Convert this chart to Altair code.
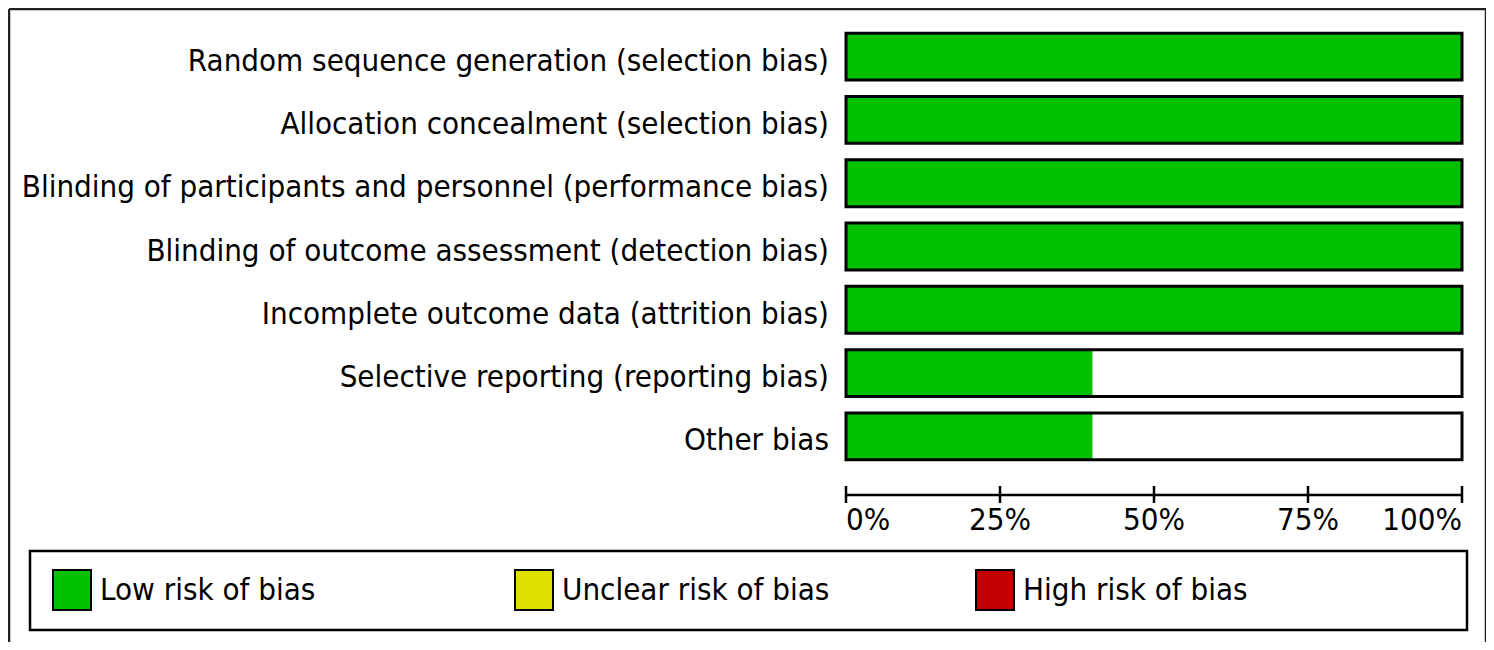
import altair as alt
import pandas as pd

# ---- data ----
domains = [
    "Random sequence generation (selection bias)",
    "Allocation concealment (selection bias)",
    "Blinding of participants and personnel (performance bias)",
    "Blinding of outcome assessment (detection bias)",
    "Incomplete outcome data (attrition bias)",
    "Selective reporting (reporting bias)",
    "Other bias",
]
low_risk = [100, 100, 100, 100, 100, 40, 40]
unclear_risk = [0, 0, 0, 0, 0, 0, 0]
high_risk = [0, 0, 0, 0, 0, 0, 0]

categories = ["Low risk of bias", "Unclear risk of bias", "High risk of bias"]
cat_colors = ["#00C000", "#E0E000", "#C00000"]

tick_values = [0, 25, 50, 75, 100]
tick_labels = ["0%", "25%", "50%", "75%", "100%"]

FONT = "DejaVu Sans Condensed"
FS = 31

# ---- tables ----
rows = []
for d, lo, un, hi in zip(domains, low_risk, unclear_risk, high_risk):
    s = 0
    for c, v in zip(categories, [lo, un, hi]):
        rows.append({"domain": d, "cat": c, "start": s, "end": s + v})
        s += v
seg = pd.DataFrame(rows)
full = pd.DataFrame({"domain": domains, "start": [0] * len(domains), "end": [100] * len(domains)})
ticks = pd.DataFrame({"v": tick_values, "lab": tick_labels})
span = pd.DataFrame({"start": [tick_values[0]], "end": [tick_values[-1]]})
one = pd.DataFrame({"a": [0]})

xscale = alt.Scale(domain=[0, 100], nice=False, zero=True)
yscale = alt.Scale(paddingInner=0.26, paddingOuter=0.13)
color_scale = alt.Scale(domain=categories, range=cat_colors)

X = alt.X("start:Q", scale=xscale, axis=None)
Y = alt.Y("domain:N", sort=domains, scale=yscale, axis=None)

bg = alt.Chart(full).mark_rect(fill="white").encode(x=X, x2="end:Q", y=Y)

bars = alt.Chart(seg).mark_rect(strokeWidth=0).encode(
    x=X, x2="end:Q", y=Y,
    color=alt.Color("cat:N", scale=color_scale, legend=None))

outline = alt.Chart(full).mark_rect(fill=None, stroke="black", strokeWidth=3).encode(
    x=X, x2="end:Q", y=Y)

# category labels
ylabels = alt.Chart(full).mark_text(align="right", baseline="alphabetic", dy=14,
                                    font=FONT, fontSize=FS, color="black").encode(
    y=Y, x=alt.value(-17), text="domain:N")

# axis line, centred tick marks and tick labels
axis_line = alt.Chart(span).mark_rule(color="black", strokeWidth=2.5).encode(
    x=X, x2="end:Q", y=alt.value(470))
tick_marks = alt.Chart(ticks).mark_rule(color="black", strokeWidth=2.5).encode(
    x=alt.X("v:Q", scale=xscale, axis=None), y=alt.value(461), y2=alt.value(478))
first_v, last_v = tick_values[0], tick_values[-1]
tick_text = []
for flt, al in [(f"datum.v == {first_v}", "left"),
                (f"datum.v != {first_v} && datum.v != {last_v}", "center"),
                (f"datum.v == {last_v}", "right")]:
    tick_text.append(alt.Chart(ticks).transform_filter(flt).mark_text(
        align=al, baseline="alphabetic", font=FONT, fontSize=FS, color="black").encode(
        x=alt.X("v:Q", scale=xscale, axis=None), y=alt.value(505), text="lab:N"))

# outer frame (left, top, right)
frame = [
    alt.Chart(one).mark_rule(color="#222", strokeWidth=2.5).encode(
        x=alt.value(-837), y=alt.value(-16), y2=alt.value(640)),
    alt.Chart(one).mark_rule(color="#222", strokeWidth=2.5).encode(
        x=alt.value(-837), x2=alt.value(640), y=alt.value(-16)),
    alt.Chart(one).mark_rule(color="#222", strokeWidth=2.5).encode(
        x=alt.value(640), y=alt.value(-16), y2=alt.value(640)),
]

# legend box
legend_box = alt.Chart(one).mark_rect(fill="white", stroke="black", strokeWidth=2.5).encode(
    x=alt.value(-816), x2=alt.value(621), y=alt.value(526), y2=alt.value(605))
legend_x = [-793, -331, 130]
legend_layers = []
for c, col, lx in zip(categories, cat_colors, legend_x):
    legend_layers.append(alt.Chart(one).mark_rect(fill=col, stroke="black", strokeWidth=2).encode(
        x=alt.value(lx), x2=alt.value(lx + 38), y=alt.value(545), y2=alt.value(585)))
    legend_layers.append(alt.Chart(one).mark_text(text=c, align="left", baseline="alphabetic",
                                                  font=FONT, fontSize=FS, color="black").encode(
        x=alt.value(lx + 47), y=alt.value(575)))

chart = alt.layer(*frame, legend_box, *legend_layers, bg, bars, outline, ylabels,
                  axis_line, tick_marks, *tick_text).properties(
    width=616, height=443,
    background="white",
    autosize=alt.AutoSizeParams(type="none"),
    padding={"left": 838, "top": 17, "right": 24, "bottom": 174},
).configure_view(stroke=None)

chart.save("out.html", embed_options={"renderer": "svg", "actions": False})
